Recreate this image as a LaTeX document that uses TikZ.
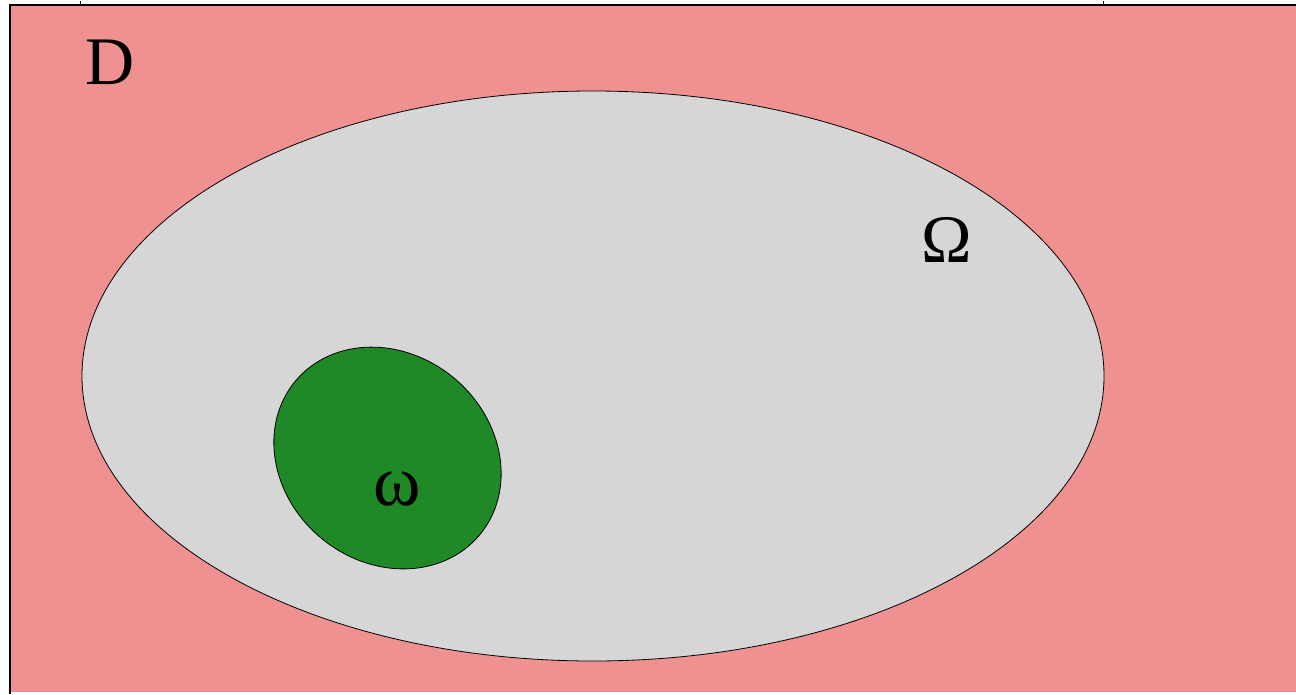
\documentclass[tikz,border=0pt]{standalone}
\usepackage{fontspec}
\setmainfont{Liberation Serif}
\definecolor{bgpink}{RGB}{240,145,145}
\definecolor{omgray}{RGB}{214,214,214}
\definecolor{omgreen}{RGB}{30,137,38}
\tikzset{
  region/.style={draw=black, line width=0.8pt},
  lbl/.style={inner sep=0pt, text=black}
}
\begin{document}
\begin{tikzpicture}[x=1pt,y=-1pt]
\useasboundingbox (0,0) rectangle (1296,694);
\fill[white] (0,0) rectangle (1296,694);
\fill[bgpink] (10,5) rectangle (1296,692);
\draw[line width=1.2pt] (10,694) -- (10,5) -- (1296,5);
\draw[line width=1pt] (80,5) -- (80,1);
\draw[line width=1pt] (1103,5) -- (1103,1);
\path[region, fill=omgray] (593,376) ellipse [x radius=511, y radius=285];
\path[region, fill=omgreen] (387.5,458) ellipse [x radius=120, y radius=104, rotate=-40];
\node[lbl, font=\fontsize{68}{70}\selectfont] (D) at (110,62) {D};
\node[lbl, font=\fontsize{68}{70}\selectfont] (Om) at (947,240) {Ω};
\node[lbl, font=\fontsize{72}{74}\selectfont] (om) at (397,489) {ω};
\end{tikzpicture}
\end{document}
